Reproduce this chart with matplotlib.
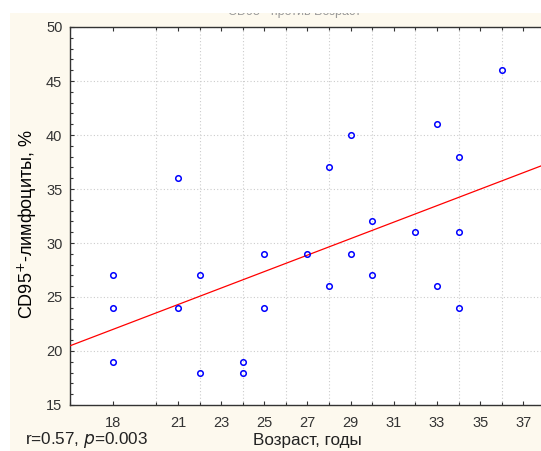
import numpy as np
import matplotlib.pyplot as plt
from matplotlib.patches import Rectangle
from matplotlib.ticker import MultipleLocator

# age (years) and CD95+ lymphocytes (%)
age = [18, 18, 18, 21, 21, 22, 22, 24, 24, 25, 25, 27, 28, 28, 29, 29, 30, 30,
       32, 33, 33, 34, 34, 34, 36]
cd95 = [27, 24, 19, 36, 24, 27, 18, 19, 18, 29, 24, 29, 37, 26, 40, 29, 32, 27,
        31, 41, 26, 38, 31, 24, 46]

xtick_pos = [18, 21, 23, 25, 27, 29, 31, 33, 35, 37]
xtick_labels = [str(v) for v in xtick_pos]
stat_text = "r=0.57, $\\it{p}$=0.003"

plt.rcParams["font.family"] = ["Liberation Sans", "DejaVu Sans"]
cream = "#fdf9ee"
txt = "#333333"

fig = plt.figure(figsize=(5.41, 4.51), dpi=100)
fig.patch.set_facecolor("white")
fig.patches.append(Rectangle((10 / 541, 0), 1, 1 - 13 / 451, transform=fig.transFigure,
                             facecolor=cream, edgecolor="none", zorder=0))

ax = fig.add_axes([70 / 541, 46 / 451, 475 / 541, 378 / 451])
ax.set_zorder(1)
ax.set_facecolor("white")

x_line = np.array([16, 38])
slope, icpt = np.polyfit(age, cd95, 1)
ax.plot(x_line, slope * x_line + icpt, color="red", lw=0.9, zorder=3)
ax.plot(age, cd95, "o", mfc="none", mec="blue", ms=4, mew=1.1, zorder=4)

ax.set_xlim(16, 38)
ax.set_ylim(15, 50)
ax.set_xticks(xtick_pos, xtick_labels)
ax.xaxis.set_minor_locator(MultipleLocator(2))
ax.yaxis.set_major_locator(MultipleLocator(5))
ax.yaxis.set_minor_locator(MultipleLocator(1))

ax.grid(False)
ax.grid(axis="x", which="minor", color="#cccccc", ls=(0, (1, 2)), lw=0.8)
ax.grid(axis="y", which="major", color="#cccccc", ls=(0, (1, 2)), lw=0.8)

ax.tick_params(which="both", direction="in", top=True, right=False, colors="#333333",
               labelsize=10.5, labelcolor=txt, width=0.8)
ax.tick_params(which="major", length=3)
ax.tick_params(which="minor", length=2.5)
ax.tick_params(axis="x", pad=8)
ax.tick_params(axis="y", pad=5.5)

for s in ax.spines.values():
    s.set_color("#333333")
    s.set_linewidth(1.0)

ax.set_ylabel("CD95$^{+}$-лимфоциты, %", fontsize=13, color="black")
ax.yaxis.set_label_coords(-0.065, 0.48)
ax.set_xlabel("Возраст, годы", fontsize=12.3, color="#222222", labelpad=2)
fig.text(25 / 541, 1 - 440 / 451, stat_text, fontsize=12.3, color="#222222",
         va="center", ha="left")

# title cut off at the top edge of the picture
fig.text(295 / 541, 1 - 12 / 451, "CD95 - против Возраст", fontsize=9, color="#999999",
         ha="center", va="center", zorder=2)
fig.patches.append(Rectangle((0, 1 - 13 / 451), 1, 13 / 451, transform=fig.transFigure,
                             facecolor="white", edgecolor="none", zorder=5))

fig.savefig("out.png", dpi=100, facecolor=fig.get_facecolor())
